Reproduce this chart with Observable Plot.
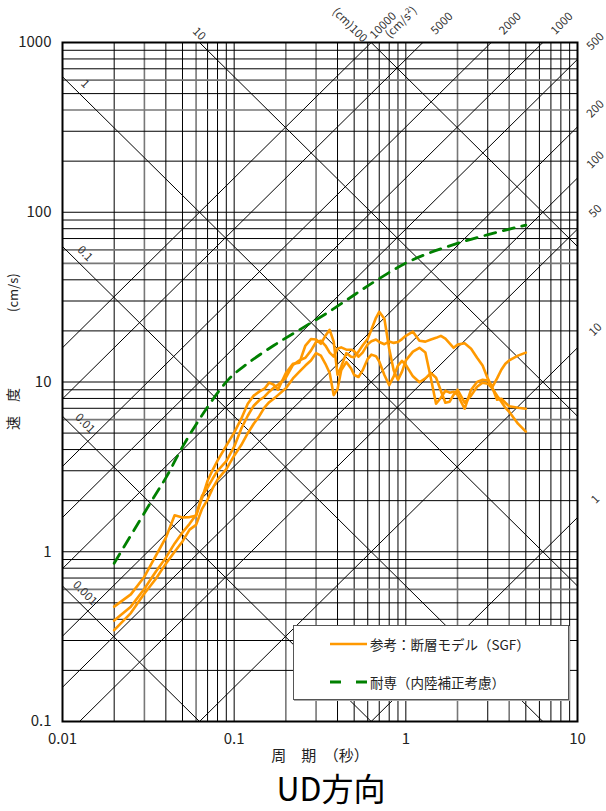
<!DOCTYPE html>
<html><head><meta charset="utf-8">
<script src="https://cdn.jsdelivr.net/npm/d3@7"></script>
<script src="https://cdn.jsdelivr.net/npm/@observablehq/plot@0.6"></script>
<style>
body{margin:0;background:#fff;font-family:'Noto Sans CJK JP',sans-serif;}
#wrap{position:relative;width:606px;}
#legend{position:absolute;left:293px;top:625px;width:276px;height:75px;background:#fff;border:1px solid #555;box-shadow:1px 1px 0 #aaa;box-sizing:border-box;font-size:13.5px;color:#222;}
.row{position:absolute;left:36px;height:20px;display:flex;align-items:center;white-space:nowrap;}
.row svg{margin-right:3px;}
#title{box-sizing:border-box;width:606px;margin-top:-3px;padding-left:56px;text-align:center;font-size:32px;line-height:40px;height:40px;color:#000;font-weight:400;}
</style></head><body>
<div id="wrap"><div id="chart"></div>
<div id="legend">
 <div class="row" style="top:8px"><svg width="37" height="6"><line x1="0" x2="37" y1="3" y2="3" stroke="#FF9900" stroke-width="2.5"/></svg><span id="lg1"></span></div>
 <div class="row" style="top:46px"><svg width="37" height="6"><line x1="0" x2="37" y1="3" y2="3" stroke="#008000" stroke-width="3" stroke-dasharray="11,15"/></svg><span id="lg2"></span></div>
</div>
</div>
<div id="title">UD方向</div>
<script>
// ---- data ----
const seriesNames = ["参考：断層モデル（SGF）", "耐専（内陸補正考慮）"];
const periods = [0.02,0.025,0.03,0.035,0.04,0.045,0.05,0.055,0.06,0.065,0.07,0.075,0.08,0.09,0.1,0.11,0.12,0.13,0.14,0.15,0.16,0.17,0.18,0.2,0.22,0.24,0.26,0.28,0.3,0.32,0.34,0.36,0.38,0.4,0.42,0.45,0.48,0.5,0.53,0.56,0.6,0.63,0.67,0.7,0.75,0.8,0.85,0.9,0.95,1.0,1.1,1.2,1.3,1.4,1.5,1.6,1.7,1.8,1.9,2.0,2.2,2.4,2.6,2.8,3.0,3.2,3.4,3.6,3.8,4.0,4.5,5.0];
const sgfA = [0.475,0.561,0.713,0.948,1.21,1.64,1.59,1.60,1.63,2.07,2.62,3.04,3.44,4.22,5.03,6.08,7.45,8.31,8.77,9.13,9.91,9.64,9.01,11.3,12.8,13.0,16.4,17.9,17.8,16.8,18.7,20.3,17.3,11.0,12.3,14.8,14.1,14.0,15.1,16.4,18.0,20.3,23.9,25.9,23.6,15.7,11.7,10.3,11.5,13.4,15.1,15.9,14.9,10.5,7.45,8.08,8.89,8.65,8.77,8.42,6.96,9.01,10.0,10.3,10.2,9.38,10.5,11.8,12.8,13.4,14.3,14.9];
const sgfB = [0.393,0.475,0.606,0.764,0.923,1.12,1.30,1.46,1.65,2.14,2.39,2.70,3.00,3.42,4.16,5.31,6.33,7.25,7.81,8.19,8.77,9.26,9.64,10.6,12.6,13.4,13.9,15.3,17.2,17.5,16.4,14.9,14.1,15.7,16.0,15.5,15.5,15.2,14.1,14.9,16.7,17.4,17.8,17.2,16.7,17.3,17.0,17.2,17.9,18.7,19.8,17.5,17.3,17.8,18.2,18.7,18.0,16.9,15.9,16.6,16.9,15.7,13.9,12.5,10.5,9.19,7.87,7.97,7.55,7.20,7.06,6.96];
const sgfC = [0.345,0.435,0.567,0.694,0.851,1.00,1.15,1.35,1.44,1.79,2.03,2.37,2.66,3.07,3.68,4.25,4.99,5.68,6.29,7.06,7.60,7.97,8.37,9.19,10.5,11.5,12.5,13.4,14.8,14.3,12.8,11.3,8.37,9.07,11.7,13.1,12.0,11.0,10.7,11.7,13.7,14.5,14.2,13.2,11.0,9.58,10.8,12.5,13.3,12.6,10.8,9.97,10.5,11.3,10.6,8.89,7.55,7.66,8.42,9.01,7.55,8.31,9.38,9.91,9.77,9.13,8.31,7.66,7.06,6.68,5.68,5.10];
const taisenT  = [0.02,0.0326,0.0407,0.0498,0.0697,0.0931,0.119,0.17,0.244,0.365,0.51,0.682,1.066,2.08,5.0];
const taisenSv = [0.855,1.95,2.81,4.12,7.08,10.4,12.8,16.4,20.5,26.3,33.0,40.0,51.8,66.4,84.0];

const xTicks = [0.01,0.1,1,10];
const yTicks = [0.1,1,10,100,1000];
const tGrid = [0.02,0.03,0.04,0.05,0.06,0.07,0.08,0.09,0.1,0.2,0.3,0.4,0.5,0.6,0.7,0.8,0.9,1,2,3,4,5,6,7,8,9];
const tGray = [0.03,0.06,0.2,0.3,2,4];
const svGrid = [0.2,0.3,0.4,0.5,0.6,0.7,0.8,0.9,1,2,3,4,5,6,7,8,9,10,20,30,40,50,60,70,80,90,100,200,300,400,500,600,700,800,900];
const svGray = [0.6,6,50,60,400,600];
const dispLines = [0.001,0.01,0.1,1,10,100];            // cm
const accLines = [1,10,50,100,200,500,1000,2000,5000,10000]; // cm/s2
const dispLeftLabels = ["1","0.1","0.01","0.001"];
const dispLeftValues = [1,0.1,0.01,0.001];
const dispTopLabels = ["10","(cm)100"];
const dispTopValues = [10,100];
const accTopLabels = ["5000","2000","1000"];
const accTopValues = [5000,2000,1000];
const accRightLabels = ["500","200","100","50","10","1"];
const accRightValues = [500,200,100,50,10,1];

document.getElementById("lg1").textContent = seriesNames[0];
document.getElementById("lg2").textContent = seriesNames[1];

const TP = 2 * Math.PI;
const sgf = [sgfA, sgfB, sgfC].flatMap((s, k) => periods.map((T, i) => ({T, v: s[i], k})));
const taisen = taisenT.map((T, i) => ({T, v: taisenSv[i]}));
const dispSeg = dispLines.flatMap(D => [0.002, 50].map(T => ({id: D, T, v: TP * D / T})));
const accSeg = accLines.flatMap(A => [0.002, 50].map(T => ({id: A, T, v: A * T / TP})));
const tBlack = tGrid.filter(t => !tGray.includes(t));
const svBlack = svGrid.filter(v => !svGray.includes(v));

const T0 = 0.01255;
const leftD = dispLeftValues.map((D, i) => ({t: dispLeftLabels[i], T: T0, v: TP * D / T0}));
const topD10 = [{t: dispTopLabels[0], T: TP * dispTopValues[0] / 1000, v: 1000}];
const topD100 = [{t: dispTopLabels[1], T: TP * dispTopValues[1] / 1000, v: 1000}];
const topA = accTopValues.map((A, i) => ({t: accTopLabels[i], T: 1000 * TP / A, v: 1000}));
const top10000 = [{t: "10000", T: 1000 * TP / 10000, v: 1000}];
const unitA = [{t: "(cm/s²)", T: 1000 * TP / 10000, v: 1000}];
const rightA = accRightValues.map((A, i) => ({t: accRightLabels[i], T: 10, v: A * 10 / TP}));

const lab = {fill: "#333", fontSize: 11.5, text: "t", x: "T", y: "v"};

const chart = Plot.plot({
  width: 606, height: 770,
  marginLeft: 62, marginRight: 29, marginTop: 42, marginBottom: 49,
  style: {fontFamily: "'Noto Sans CJK JP', sans-serif", fontSize: "15px", background: "#fff", color: "#222", overflow: "visible"},
  x: {type: "log", domain: [0.01, 10], ticks: xTicks, tickFormat: d => String(d), tickSize: 0, tickPadding: 12, label: null},
  y: {type: "log", domain: [0.1, 1000], ticks: yTicks, tickFormat: d => String(d), tickSize: 0, tickPadding: 11, label: null},
  marks: [
    Plot.ruleX(tBlack, {stroke: "#000", strokeWidth: 1}),
    Plot.ruleX(tGray, {stroke: "#777", strokeWidth: 1.6}),
    Plot.ruleY(svBlack, {stroke: "#000", strokeWidth: 1}),
    Plot.ruleY(svGray, {stroke: "#777", strokeWidth: 1.6}),
    Plot.line(dispSeg, {x: "T", y: "v", z: "id", stroke: "#000", strokeWidth: 1, clip: true}),
    Plot.line(accSeg, {x: "T", y: "v", z: "id", stroke: "#000", strokeWidth: 1, clip: true}),
    Plot.frame({stroke: "#000", strokeWidth: 2}),
    Plot.line(sgf, {x: "T", y: "v", z: "k", stroke: "#FF9900", strokeWidth: 2.6}),
    Plot.line(taisen, {x: "T", y: "v", stroke: "#008000", strokeWidth: 2.8, strokeDasharray: "11,8", curve: "catmull-rom"}),
    Plot.text(leftD, {...lab, rotate: 45, textAnchor: "middle", lineAnchor: "bottom", dx: 3, dy: -7}),
    Plot.text(topD10, {...lab, rotate: 45, textAnchor: "end", lineAnchor: "middle", dx: 4, dy: -4}),
    Plot.text(topD100, {...lab, rotate: 45, textAnchor: "end", lineAnchor: "middle", dx: -6, dy: -2}),
    Plot.text(topA, {...lab, rotate: -45, textAnchor: "middle", lineAnchor: "middle", dx: 19, dy: -19}),
    Plot.text(top10000, {...lab, rotate: -45, textAnchor: "middle", lineAnchor: "middle", dx: 12, dy: -17}),
    Plot.text(unitA, {...lab, rotate: -45, textAnchor: "middle", lineAnchor: "middle", dx: 30, dy: -20}),
    Plot.text(rightA, {...lab, rotate: -45, textAnchor: "middle", lineAnchor: "middle", dx: 18, dy: -18}),
    Plot.text(["周　期　（秒）"], {text: d => d, frameAnchor: "bottom", dy: 39, fontSize: 15, fill: "#222"}),
    Plot.text(["速　度"], {text: d => d, frameAnchor: "left", dx: -49, dy: 48, rotate: -90, fontSize: 14, fill: "#222"}),
    Plot.text(["(cm/s)"], {text: d => d, frameAnchor: "left", dx: -49, dy: -70, rotate: -90, fontSize: 13, fill: "#222"})
  ]
});
document.getElementById("chart").appendChild(chart);
</script>
</body></html>
